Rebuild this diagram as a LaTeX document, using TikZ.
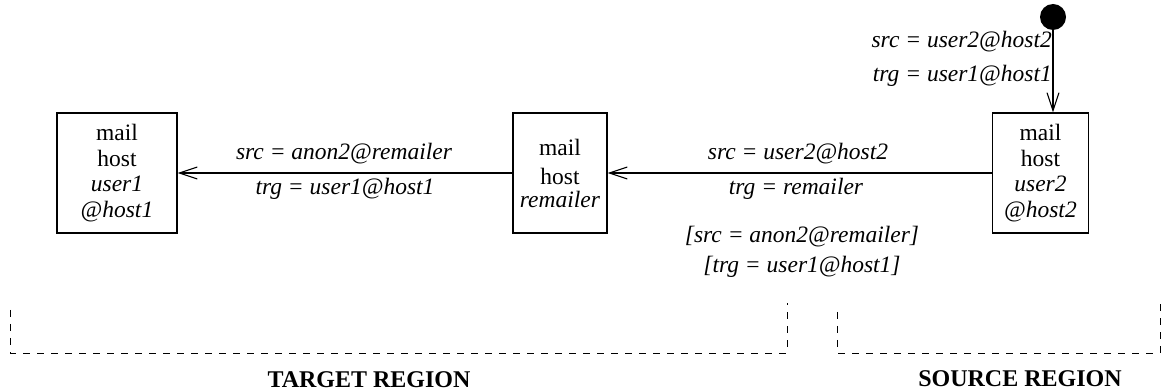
\documentclass[tikz,border=0pt]{standalone}
\usepackage{fontspec}
\setmainfont{Liberation Serif}
\usetikzlibrary{arrows.meta}
\begin{document}
\begin{tikzpicture}[x=1pt,y=-1pt,
  hostbox/.style={draw, line width=1.1pt, rectangle, inner sep=0pt, align=center,
    minimum height=120pt, font=\fontsize{23.5}{25.5}\selectfont},
  lbl/.style={font=\fontsize{23.5}{26}\selectfont\itshape, inner sep=0pt, anchor=base},
  msg/.style={line width=1.1pt, -{Straight Barb[length=18pt,width=12pt]}},
  region/.style={line width=0.9pt, dash pattern=on 7pt off 7pt},
  regionlbl/.style={font=\fontsize{24}{26}\selectfont\bfseries, inner sep=0pt, anchor=base}]
\useasboundingbox (0,0) rectangle (1163,390);
% hosts
\node[hostbox, minimum width=120pt] (target) at (117,173)
  {mail\\host\\\textit{user1}\\\textit{@host1}};
\node[hostbox, minimum width=94pt] (remailer) at (560,173)
  {mail\\[4pt]host\\[-3pt]\textit{remailer}};
\node[hostbox, minimum width=96pt] (source) at (1040.5,173)
  {mail\\host\\\textit{user2}\\\textit{@host2}};
\node[circle, fill, inner sep=0pt, minimum size=26pt] (start) at (1053,17) {};
% connectors
\draw[msg] (start.south) -- (start.south |- source.north);
\draw[msg] (source.west) -- (remailer.east);
\draw[msg] (remailer.west) -- (target.east);
% labels
\node[lbl] (l1) at (344,160) {src = anon2@remailer};
\node[lbl] (l2) at (345,195) {trg = user1@host1};
\node[lbl] (l3) at (798,160) {src = user2@host2};
\node[lbl] (l4) at (796,195) {trg = remailer};
\node[lbl] (l5) at (802,243) {[src = anon2@remailer]};
\node[lbl] (l6) at (802,273) {[trg = user1@host1]};
\node[lbl, anchor=base east] (l7) at (1052,48) {src = user2@host2};
\node[lbl, anchor=base east] (l8) at (1052,82) {trg = user1@host1};
% regions
\draw[region] (10,310) -- (10,353) -- (787,353) -- (787,303);
\draw[region] (837,312) -- (837,353) -- (1160,353) -- (1160,303);
\node[regionlbl] (tl) at (369,387) {TARGET REGION};
\node[regionlbl] (sl) at (1020,386) {SOURCE REGION};
\end{tikzpicture}
\end{document}
